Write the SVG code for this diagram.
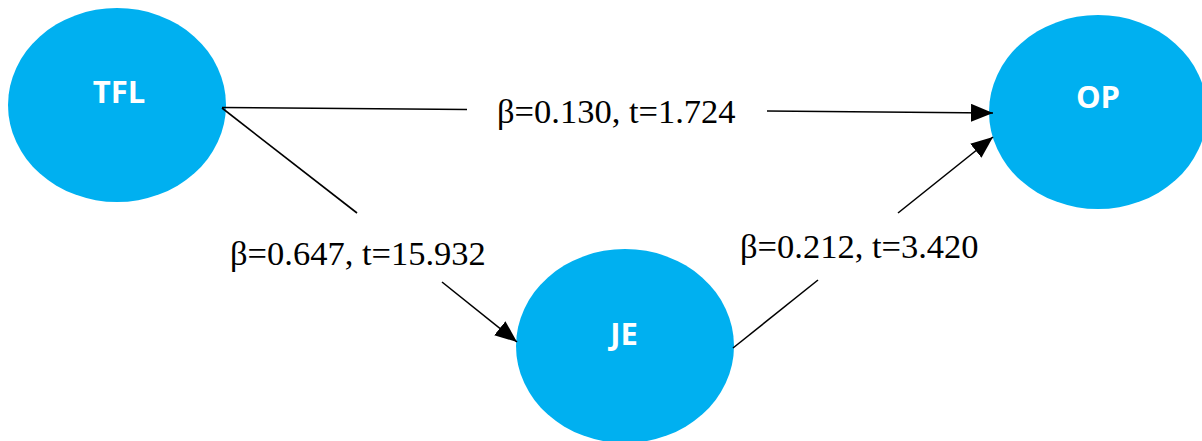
<svg xmlns="http://www.w3.org/2000/svg" width="1202" height="441" viewBox="0 0 1202 441">
<style>
.node{fill:#00B0F0;}
.nl{font-family:"Open Sans","Liberation Sans",sans-serif;font-weight:bold;font-size:31px;fill:#ffffff;text-anchor:middle;}
.edge{stroke:#000;stroke-width:1.6;fill:none;}
.el{font-family:"Liberation Serif","Times New Roman",serif;font-size:34.5px;fill:#000;}
</style>
<defs>
<marker id="arr" markerUnits="userSpaceOnUse" markerWidth="24" markerHeight="20" refX="22" refY="9" orient="auto">
<path d="M0,0 L22,9 L0,18 Z" fill="#000"/>
</marker>
</defs>
<rect width="1202" height="441" fill="#fff"/>
<g id="TFL"><ellipse class="node" cx="117" cy="105" rx="109" ry="97"/><text class="nl" x="119" y="103">TFL</text></g>
<g id="OP"><ellipse class="node" cx="1098" cy="112" rx="109" ry="97"/><text class="nl" x="1098" y="108">OP</text></g>
<g id="JE"><ellipse class="node" cx="625" cy="346" rx="109" ry="97"/><text class="nl" x="624" y="345">JE</text></g>
<g id="connectors">
<line class="edge" x1="222" y1="107.5" x2="467" y2="109.5"/>
<line class="edge" x1="767" y1="111" x2="993" y2="113" marker-end="url(#arr)"/>
<line class="edge" x1="222" y1="108" x2="357" y2="213"/>
<line class="edge" x1="442" y1="282" x2="517" y2="342" marker-end="url(#arr)"/>
<line class="edge" x1="733" y1="348" x2="818" y2="280"/>
<line class="edge" x1="898" y1="213" x2="993" y2="137" marker-end="url(#arr)"/>
<text class="el" x="497" y="123">β=0.130, t=1.724</text>
<text class="el" x="230" y="265">β=0.647, t=15.932</text>
<text class="el" x="740" y="258">β=0.212, t=3.420</text>
</g>
</svg>
